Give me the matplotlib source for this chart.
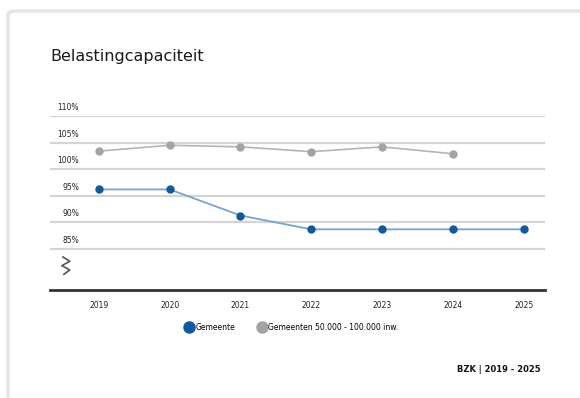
import matplotlib.pyplot as plt
from matplotlib.patches import FancyBboxPatch
from matplotlib.lines import Line2D

years = ["2019", "2020", "2021", "2022", "2023", "2024", "2025"]
gemeente = [96.2, 96.2, 91.3, 88.7, 88.7, 88.7, 88.7]
gemiddelde = [103.4, 104.5, 104.2, 103.3, 104.2, 102.9]
yticks = [85, 90, 95, 100, 105, 110]
ytick_labels = ["85%", "90%", "95%", "100%", "105%", "110%"]

blue = "#0f5a9e"
blue_line = "#78a3cf"
grey = "#a3a3a3"
grey_line = "#b5b5b5"

W, H = 580, 398
fig = plt.figure(figsize=(W / 100, H / 100), dpi=100)
fig.patch.set_facecolor("white")


def px(x, y):
    # pixel position (top-left origin) -> figure fraction
    return x / W, 1 - y / H


# card behind the chart
card = FancyBboxPatch((8 / W, -0.1), 1.1, 1 - 11 / H + 0.1,
                      boxstyle="round,pad=0,rounding_size=0.012",
                      transform=fig.transFigure, facecolor="white",
                      edgecolor="#e4e4e4", linewidth=2.5, zorder=-5)
fig.patches.append(card)

left, top = px(50, 116)
right, bottom = px(545, 290)
ax = fig.add_axes([left, bottom, right - left, top - bottom])
ax.set_facecolor("none")

x = list(range(len(years)))
ax.set_xlim(-0.69, 6.3)
ax.set_ylim(77.3, 110)

for t, lab in zip(yticks, ytick_labels):
    ax.axhline(t, color="#d4d4d4", lw=1.6, zorder=1)
    ax.annotate(lab, xy=(0, t), xycoords=("axes fraction", "data"),
                xytext=(29, 4), textcoords="offset pixels",
                ha="right", va="bottom", fontsize=5.5, color="#222222",
                annotation_clip=False)

ax.plot(x[:len(gemiddelde)], gemiddelde, color=grey_line, lw=1.2,
        marker="o", ms=5, mfc=grey, mec=grey, zorder=3)
ax.plot(x, gemeente, color=blue_line, lw=1.3, marker="o", ms=5,
        mfc=blue, mec=blue, zorder=4)

# axis break mark
zx = [0.026, 0.040, 0.024, 0.040, 0.028]
zy = [0.19, 0.165, 0.14, 0.115, 0.09]
ax.add_line(Line2D(zx, zy, transform=ax.transAxes, color="#555555", lw=1.2))

for s in ["top", "right", "left"]:
    ax.spines[s].set_visible(False)
ax.spines["bottom"].set_color("#333333")
ax.spines["bottom"].set_linewidth(2)
ax.set_yticks([])
ax.set_xticks(x)
ax.set_xticklabels(years, fontsize=5.5, color="#222222")
ax.tick_params(axis="x", length=0, pad=8)

fig.text(*px(50, 64), "Belastingcapaciteit", fontsize=11.5,
         color="#1a1a1a", va="bottom", ha="left")

handles = [Line2D([], [], ls="none", marker="o", ms=8, mfc=blue, mec=blue),
           Line2D([], [], ls="none", marker="o", ms=8, mfc=grey, mec=grey)]
fig.legend(handles, ["Gemeente", "Gemeenten 50.000 - 100.000 inw."],
           loc="center", bbox_to_anchor=px(292, 327), ncol=2, frameon=False,
           fontsize=5.5, handletextpad=0.3, columnspacing=3.0,
           handlelength=1.0)

fig.text(*px(541, 369), "BZK | 2019 - 2025", fontsize=6, fontweight="bold",
         ha="right", va="center", color="#111111")

fig.savefig("out.png", dpi=100)
